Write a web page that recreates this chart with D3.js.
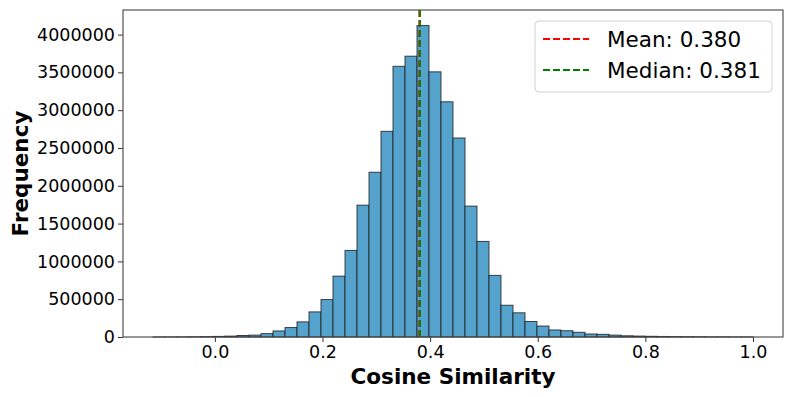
<!DOCTYPE html>
<html>
<head>
<meta charset="utf-8">
<script src="https://cdn.jsdelivr.net/npm/d3@7"></script>
<style>
  body { margin: 0; background: #fff; }
  svg text { font-family: "DejaVu Sans", sans-serif; fill: #000; }
</style>
</head>
<body>
<script>
// histogram bins: 50 bins from binLo to binHi
var binLo = -0.115, binHi = 1.0;
var counts = [
  1000, 1000, 2000, 3000, 5000, 8000, 12000, 20000, 25000, 45000,
  80000, 125000, 200000, 332000, 495000, 805000, 1145000, 1744000, 2179000, 2720000,
  3580000, 3714000, 4119000, 3507000, 3111000, 2632000, 1731000, 1264000, 815000, 420000,
  320000, 205000, 145000, 93000, 83000, 62000, 40000, 35000, 25000, 16000,
  12000, 9000, 7000, 5000, 4000, 3000, 2000, 2000, 1000, 1000
];
var meanVal = 0.380, medianVal = 0.381;
var xTicks = [0.0, 0.2, 0.4, 0.6, 0.8, 1.0];
var yTicks = [0, 500000, 1000000, 1500000, 2000000, 2500000, 3000000, 3500000, 4000000];
var legendLabels = ["Mean: 0.380", "Median: 0.381"];
var legendColors = ["red", "green"];

var width = 793, height = 397;
var plotL = 123, plotR = 783, plotT = 10, plotB = 337;

var svg = d3.select("body").append("svg")
  .attr("width", width)
  .attr("height", height);

var binW = (binHi - binLo) / counts.length;
var bins = counts.map(function(c, i) {
  return { x0: binLo + i * binW, x1: binLo + (i + 1) * binW, n: c };
});

var pad = (binHi - binLo) * 0.05;
var x = d3.scaleLinear().domain([binLo - pad, binHi + pad]).range([plotL, plotR]);
var y = d3.scaleLinear().domain([0, d3.max(counts) * 1.05]).range([plotB, plotT]);

// bars
svg.selectAll(".bar")
  .data(bins)
  .enter()
  .append("rect")
  .attr("class", "bar")
  .attr("x", function(d) { return x(d.x0); })
  .attr("width", function(d) { return x(d.x1) - x(d.x0); })
  .attr("y", function(d) { return y(d.n); })
  .attr("height", function(d) { return plotB - y(d.n); })
  .attr("fill", "#55a3cc")
  .attr("stroke", "#1a1a1a")
  .attr("stroke-opacity", 0.8)
  .attr("stroke-width", 1);

// mean / median lines
[meanVal, medianVal].forEach(function(v, i) {
  svg.append("line")
    .attr("x1", x(v)).attr("x2", x(v))
    .attr("y1", plotT).attr("y2", plotB)
    .attr("stroke", legendColors[i])
    .attr("stroke-width", 2)
    .attr("stroke-dasharray", "7,3");
});

// axes
var xAxis = svg.append("g")
  .attr("transform", "translate(0," + plotB + ")")
  .call(d3.axisBottom(x).tickValues(xTicks).tickFormat(d3.format(".1f")).tickSize(5).tickPadding(4));
var yAxis = svg.append("g")
  .attr("transform", "translate(" + plotL + ",0)")
  .call(d3.axisLeft(y).tickValues(yTicks).tickFormat(d3.format("d")).tickSize(5).tickPadding(3));

[xAxis, yAxis].forEach(function(a) {
  a.select(".domain").remove();
  a.selectAll(".tick line").attr("stroke", "#333");
  a.selectAll(".tick text")
    .style("font-family", "DejaVu Sans")
    .style("font-size", "17.5px")
    .attr("fill", "#000");
});

// frame
svg.append("rect")
  .attr("x", plotL).attr("y", plotT)
  .attr("width", plotR - plotL).attr("height", plotB - plotT)
  .attr("fill", "none")
  .attr("stroke", "#444")
  .attr("stroke-width", 1.1);

// axis labels
svg.append("text")
  .attr("x", (plotL + plotR) / 2)
  .attr("y", 384)
  .attr("text-anchor", "middle")
  .style("font-size", "21.5px")
  .style("font-weight", "bold")
  .text("Cosine Similarity");

svg.append("text")
  .attr("transform", "translate(28," + (plotT + plotB) / 2 + ") rotate(-90)")
  .attr("text-anchor", "middle")
  .style("font-size", "21.5px")
  .style("font-weight", "bold")
  .text("Frequency");

// legend
var legend = svg.append("g");
legend.append("rect")
  .attr("x", 535).attr("y", 21)
  .attr("width", 237).attr("height", 71)
  .attr("rx", 4)
  .attr("fill", "#fff")
  .attr("fill-opacity", 0.8)
  .attr("stroke", "#d0d0d0")
  .attr("stroke-width", 1);

legendLabels.forEach(function(lab, i) {
  var cy = 39 + i * 31;
  legend.append("line")
    .attr("x1", 543).attr("x2", 589)
    .attr("y1", cy).attr("y2", cy)
    .attr("stroke", legendColors[i])
    .attr("stroke-width", 2)
    .attr("stroke-dasharray", "7,3");
  legend.append("text")
    .attr("x", 607)
    .attr("y", cy)
    .attr("dominant-baseline", "central")
    .style("font-size", "21.5px")
    .text(lab);
});
</script>
</body>
</html>
